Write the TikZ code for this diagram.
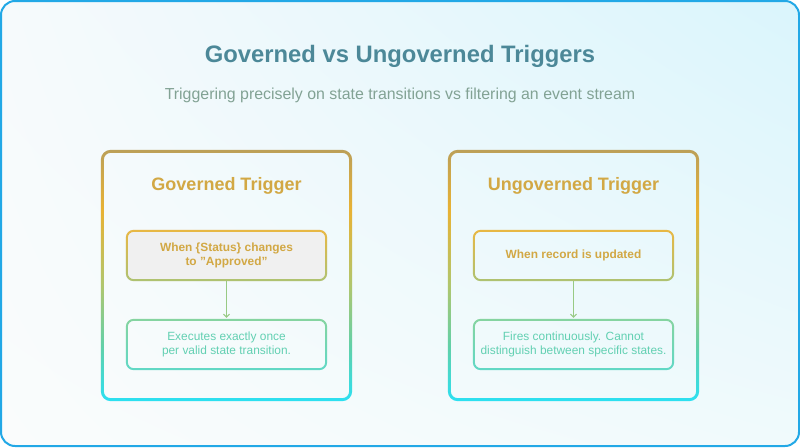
\documentclass[tikz,border=0pt]{standalone}
\usepackage{fontspec}
\setmainfont{Liberation Sans}
\usetikzlibrary{arrows.meta,shadings}
\definecolor{frameblue}{HTML}{22A8E6}
\definecolor{titlecol}{HTML}{4C8898}
\definecolor{subcol}{HTML}{82A294}
\definecolor{goldtxt}{HTML}{D2A844}
\definecolor{tealtxt}{HTML}{62D0B2}
\definecolor{pbrown}{HTML}{BCA058}
\definecolor{porange}{HTML}{E8B234}
\definecolor{pgreen}{HTML}{B0C66E}
\definecolor{pteal}{HTML}{62D0A8}
\definecolor{pcyan}{HTML}{2CE0F2}
\definecolor{bgold}{HTML}{E8B844}
\definecolor{bolive}{HTML}{AEC272}
\definecolor{bgreen}{HTML}{86D4A0}
\definecolor{bteal}{HTML}{60D8C6}
\definecolor{arrowcol}{HTML}{98CA84}
\definecolor{boxgray}{HTML}{F0F0F0}
\definecolor{bgul}{HTML}{F6FAFC}
\definecolor{bgur}{HTML}{DAF5FC}
\definecolor{bgll}{HTML}{FAFCFC}
\definecolor{bglr}{HTML}{F0FAFC}
\pgfdeclareverticalshading{panelborder}{100bp}{color(0bp)=(pcyan); color(25bp)=(pcyan); color(36bp)=(pteal); color(48bp)=(pgreen); color(63bp)=(porange); color(75bp)=(pbrown); color(100bp)=(pbrown)}
\pgfdeclareverticalshading{topborder}{100bp}{color(0bp)=(bolive); color(25bp)=(bolive); color(75bp)=(bgold); color(100bp)=(bgold)}
\pgfdeclareverticalshading{botborder}{100bp}{color(0bp)=(bteal); color(25bp)=(bteal); color(75bp)=(bgreen); color(100bp)=(bgreen)}
\tikzset{
  panel/.style={minimum width=251pt, minimum height=251pt, inner sep=0pt},
  boxnode/.style={minimum width=201pt, minimum height=51pt, inner sep=0pt, align=center},
  paneltitle/.style={font=\fontsize{18}{21}\selectfont\bfseries, text=goldtxt},
  toptext/.style={font=\fontsize{11.9}{14}\selectfont\bfseries, text=goldtxt},
  bottext/.style={font=\fontsize{11.9}{14.5}\selectfont, text=tealtxt},
  flow/.style={draw=arrowcol, line width=1.4pt, -{Straight Barb[length=3pt,width=6pt,line width=1pt]}}
}
\begin{document}
\begin{tikzpicture}[x=1pt,y=-1pt]
\useasboundingbox (0,0) rectangle (800,447);
% background
\fill[white] (0,0) rectangle (800,447);
\shade[upper left=bgul, upper right=bgur, lower left=bgll, lower right=bglr,
       rounded corners=14pt] (1,1) rectangle (799,446);
\draw[frameblue, line width=2pt, rounded corners=14pt] (1,1) rectangle (799,446);
% titles
\node[font=\fontsize{23.8}{28}\selectfont\bfseries, text=titlecol] (title) at (400,56) {Governed vs Ungoverned Triggers};
\node[font=\fontsize{15.9}{19}\selectfont, text=subcol] (subtitle) at (400,95) {Triggering precisely on state transitions vs filtering an event stream};
% panels
\foreach \nm/\cx in {L/226.5, R/573.5}{
  \node[panel] (\nm) at (\cx,275.5) {};
  \shade[shading=panelborder, even odd rule, rounded corners=10pt]
    (\nm.north west) rectangle (\nm.south east)
    [rounded corners=7pt] ([shift={(3,3)}]\nm.north west) rectangle ([shift={(-3,-3)}]\nm.south east);
}
\node[paneltitle] (Lt) at (226.5,185.5) {Governed Trigger};
\node[paneltitle] (Rt) at (573.5,185.5) {Ungoverned Trigger};
% boxes
\node[boxnode] (L1) at (226.5,255.5) {};
\fill[boxgray, rounded corners=7pt] (L1.north west) rectangle (L1.south east);
\node[boxnode] (L2) at (226.5,344.5) {};
\node[boxnode] (R1) at (573.5,255.5) {};
\node[boxnode] (R2) at (573.5,344.5) {};
\foreach \nm in {L1,R1}{
  \shade[shading=topborder, even odd rule, rounded corners=8pt]
    (\nm.north west) rectangle (\nm.south east)
    [rounded corners=6pt] ([shift={(2,2)}]\nm.north west) rectangle ([shift={(-2,-2)}]\nm.south east);
}
\foreach \nm in {L2,R2}{
  \shade[shading=botborder, even odd rule, rounded corners=8pt]
    (\nm.north west) rectangle (\nm.south east)
    [rounded corners=6pt] ([shift={(2,2)}]\nm.north west) rectangle ([shift={(-2,-2)}]\nm.south east);
}
\node[toptext, align=center] (L1t) at (L1) {When \{Status\} changes\\to \symbol{34}Approved\symbol{34}};
\node[toptext] (R1t) at (R1) {When record is updated};
\node[bottext, align=center] (L2t) at (L2) {Executes exactly once\\per valid state transition.};
\node[bottext, align=center] (R2t) at (R2) {Fires continuously. Cannot\\distinguish between specific states.};
% arrows
\draw[flow] (L1.south) -- ([yshift=1pt]L2.north);
\draw[flow] (R1.south) -- ([yshift=1pt]R2.north);
\end{tikzpicture}
\end{document}
